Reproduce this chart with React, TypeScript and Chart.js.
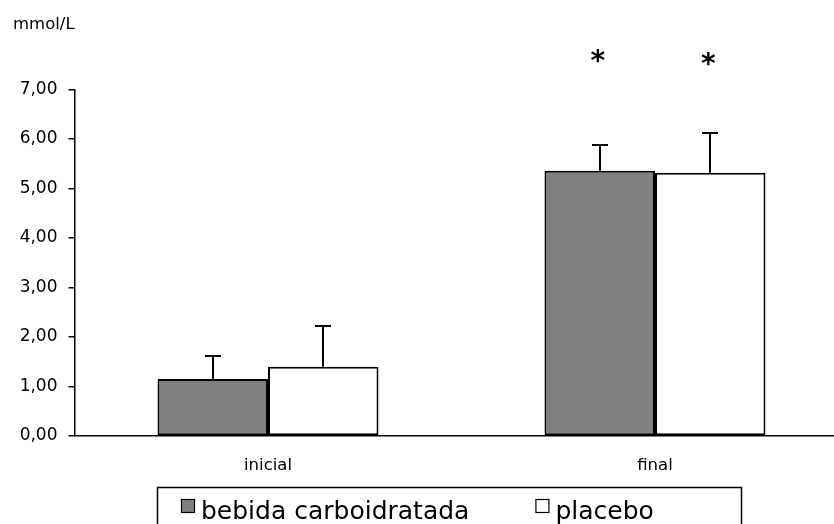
import React, { useEffect, useRef } from "react";
import { Chart, registerables } from "chart.js";

Chart.register(...registerables);

const categories = ["inicial", "final"];
const seriesNames = ["bebida carboidratada", "placebo"];
const carbValues = [1.15, 5.36];
const placeboValues = [1.4, 5.32];
const carbErr = [0.47, 0.51];
const placeboErr = [0.82, 0.81];
const carbSig = ["", "*"];
const placeboSig = ["", "*"];
const sigLevel = [7.39, 7.33];
const yTickValues = [0, 1, 2, 3, 4, 5, 6, 7];
const unitLabel = "mmol/L";

const FONT = "'DejaVu Sans', sans-serif";
const GRAY = "#808080";

export default function App() {
  const ref = useRef<HTMLCanvasElement>(null);

  useEffect(() => {
    if (!ref.current) return;
    const errs = [carbErr, placeboErr];
    const sigs = [carbSig, placeboSig];

    const errorBars = {
      id: "errorBars",
      afterDatasetsDraw(chart: any) {
        const ctx = chart.ctx;
        const yS = chart.scales.y;
        ctx.save();
        ctx.strokeStyle = "#000";
        ctx.lineWidth = 2;
        chart.data.datasets.forEach((ds: any, i: number) => {
          const meta = chart.getDatasetMeta(i);
          meta.data.forEach((bar: any, j: number) => {
            const v = ds.data[j];
            const top = Math.round(yS.getPixelForValue(v + errs[i][j]));
            const x = Math.round(bar.x);
            ctx.beginPath();
            ctx.moveTo(x, bar.y);
            ctx.lineTo(x, top);
            ctx.moveTo(x - 8, top);
            ctx.lineTo(x + 8, top);
            ctx.stroke();
          });
        });
        // significance marks
        ctx.fillStyle = "#000";
        ctx.font = `bold 28px ${FONT}`;
        ctx.textAlign = "center";
        ctx.textBaseline = "alphabetic";
        chart.data.datasets.forEach((ds: any, i: number) => {
          const meta = chart.getDatasetMeta(i);
          meta.data.forEach((bar: any, j: number) => {
            if (sigs[i][j]) {
              ctx.fillText(sigs[i][j], bar.x - 2, yS.getPixelForValue(sigLevel[i]));
            }
          });
        });
        ctx.restore();
      },
    };

    const extras = {
      id: "extras",
      afterDraw(chart: any) {
        const ctx = chart.ctx;
        ctx.save();
        // unit label
        ctx.fillStyle = "#000";
        ctx.font = `16.5px ${FONT}`;
        ctx.textAlign = "left";
        ctx.textBaseline = "alphabetic";
        ctx.fillText(unitLabel, 13, 29);
        // legend
        const boxL = 157.5, boxT = 487.5, boxR = 741.5;
        ctx.strokeStyle = "#000";
        ctx.lineWidth = 1.5;
        ctx.strokeRect(boxL, boxT, boxR - boxL, 60);
        ctx.font = `25px ${FONT}`;
        let x = 181;
        chart.data.datasets.forEach((ds: any) => {
          ctx.fillStyle = ds.backgroundColor;
          ctx.fillRect(x, 499, 14, 14);
          ctx.strokeStyle = "#000";
          ctx.lineWidth = 1.2;
          ctx.strokeRect(x + 0.5, 499.5, 13, 13);
          ctx.fillStyle = "#000";
          ctx.fillText(ds.label, x + 20, 519);
          x += 20 + ctx.measureText(ds.label).width + 66;
        });
        ctx.restore();
      },
    };

    const chart = new Chart(ref.current, {
      type: "bar",
      data: {
        labels: categories,
        datasets: [
          {
            label: seriesNames[0],
            data: carbValues,
            backgroundColor: GRAY,
            borderColor: "#000",
            borderWidth: 2,
            borderSkipped: false,
          },
          {
            label: seriesNames[1],
            data: placeboValues,
            backgroundColor: "#ffffff",
            borderColor: "#000",
            borderWidth: 2,
            borderSkipped: false,
          },
        ],
      },
      options: {
        responsive: false,
        animation: false,
        devicePixelRatio: 1,
        layout: { padding: { top: 89.5, right: 11.5, left: 0, bottom: 0 } },
        datasets: { bar: { categoryPercentage: 0.571, barPercentage: 1 } },
        plugins: {
          legend: { display: false },
          tooltip: { enabled: false },
          title: { display: false },
        },
        scales: {
          x: {
            grid: { display: false },
            border: { display: true, color: "#000", width: 1.5 },
            ticks: { color: "#000", font: { family: FONT, size: 16.5 }, padding: 12 },
            afterFit: (s: any) => {
              s.height = 88;
            },
          },
          y: {
            min: 0,
            max: 7,
            afterBuildTicks: (s: any) => {
              s.ticks = yTickValues.map((v) => ({ value: v }));
            },
            grid: {
              display: true,
              drawOnChartArea: false,
              drawTicks: true,
              tickLength: 6,
              color: "#000",
              lineWidth: 1.5,
            },
            border: { display: true, color: "#000", width: 1.5 },
            ticks: {
              color: "#000",
              font: { family: FONT, size: 17 },
              padding: 11,
              callback: (v: any) => Number(v).toFixed(2).replace(".", ","),
            },
            afterFit: (s: any) => {
              s.width = 74.5;
            },
          },
        },
      },
      plugins: [errorBars, extras],
    });
    return () => chart.destroy();
  }, []);

  return (
    <div
      style={{
        position: "fixed",
        left: 0,
        top: 0,
        width: 834,
        height: 524,
        overflow: "hidden",
        background: "#fff",
      }}
    >
      <canvas ref={ref} width={860} height={524} style={{ display: "block" }} />
    </div>
  );
}
